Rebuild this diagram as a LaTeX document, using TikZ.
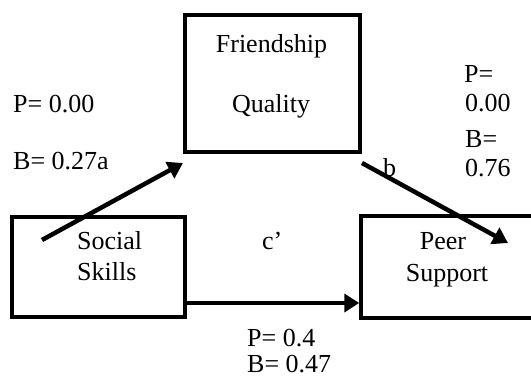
\documentclass[tikz,border=0pt]{standalone}
\usepackage{fontspec}
\setmainfont{Liberation Serif}
\usetikzlibrary{arrows.meta}

\begin{document}
\begin{tikzpicture}[x=1pt, y=-1pt,
	box/.style={draw, line width=3.5pt, inner sep=0pt},
	lbl/.style={inner sep=0pt, font=\fontsize{26pt}{30pt}\selectfont},
	path/.style={line width=4.5pt, -{Triangle[length=15pt, width=18pt]}}]
	\clip (0,0) rectangle (531,379);
	\node[box, minimum width=175pt, minimum height=137pt] (fq) at (272.5,83.5) {};
	\node[box, minimum width=173pt, minimum height=100pt] (ss) at (98.5,267) {};
	\node[box, minimum width=179pt, minimum height=102pt] (ps) at (450.5,267) {};
	\node[lbl, anchor=base] (fq1) at (271.5,53) {Friendship};
	\node[lbl, anchor=base] (fq2) at (271,113) {Quality};
	\node[lbl, anchor=base west] (ss1) at (77,250) {Social};
	\node[lbl, anchor=base west] (ss2) at (77,281) {Skills};
	\node[lbl, anchor=base] (ps1) at (443,250) {Peer};
	\node[lbl, anchor=base] (ps2) at (447,282) {Support};
	\node[lbl, anchor=base west] (pa) at (13,113) {P= 0.00};
	\node[lbl, anchor=base west] (ba) at (13,170) {B= 0.27a};
	\node[lbl, anchor=base west] (pb1) at (464,83) {P=};
	\node[lbl, anchor=base west] (pb2) at (465,112) {0.00};
	\node[lbl, anchor=base west] (bb1) at (465,148) {B=};
	\node[lbl, anchor=base west] (bb2) at (465,177) {0.76};
	\node[lbl, anchor=base west] (lb) at (383,177) {b};
	\node[lbl, anchor=base west] (lc) at (262,250) {c’};
	\node[lbl, anchor=base west] (pc) at (247,347) {P= 0.4};
	\node[lbl, anchor=base west] (bc) at (247,373) {B= 0.47};
	\coordinate (aFrom) at (42,240);
	\coordinate (aTo) at (183,163);
	\coordinate (bFrom) at (362,163);
	\coordinate (bTo) at (508,243);
	\draw[path] (aFrom) -- (aTo);
	\draw[path] (bFrom) -- (bTo);
	\draw[path] (ss.east |- 0,303) -- (ps.west |- 0,303);
\end{tikzpicture}
\end{document}
